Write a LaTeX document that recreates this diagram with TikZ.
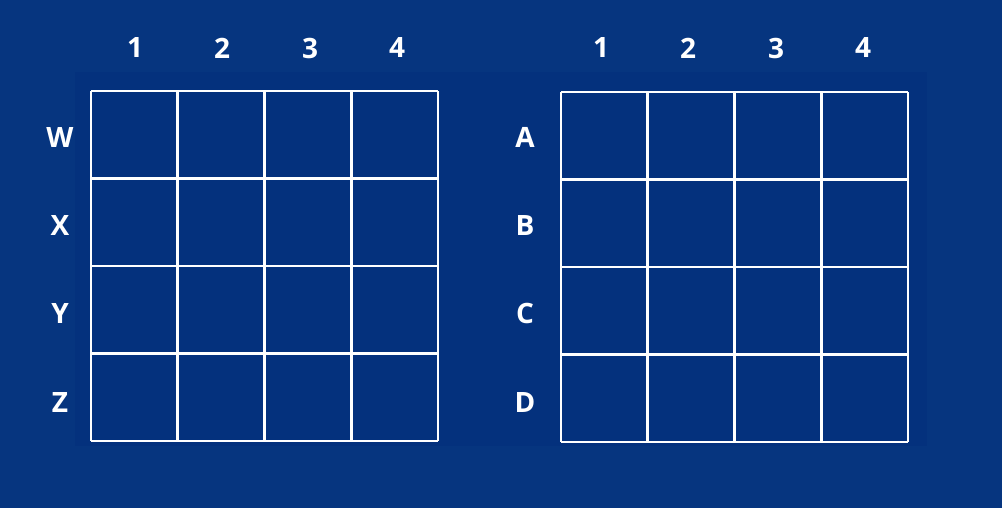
\documentclass[tikz,border=0pt]{standalone}
\usepackage{fontspec}
\setmainfont{Open Sans}
\definecolor{bgout}{HTML}{06357F}
\definecolor{bgin}{HTML}{04317D}
\begin{document}
\begin{tikzpicture}[x=0.75pt,y=-0.75pt,
  lbl/.style={text=white,font=\fontsize{21}{24}\selectfont\bfseries,inner sep=0pt,anchor=center},
  gridline/.style={draw=white,line width=2pt}]
\fill[bgout] (0,0) rectangle (1002,508);
\useasboundingbox (0,0) rectangle (1002,508);
\fill[bgin] (75,72) rectangle (927,446);
% left grid
\foreach \i in {0,...,4} {
  \draw[gridline] ({91+\i*86.75},91) -- ({91+\i*86.75},441);
  \draw[gridline] (91,{91+\i*87.5}) -- (438,{91+\i*87.5});
}
% right grid
\foreach \i in {0,...,4} {
  \draw[gridline] ({561+\i*86.75},92) -- ({561+\i*86.75},442);
  \draw[gridline] (561,{92+\i*87.5}) -- (908,{92+\i*87.5});
}
\foreach \n/\x in {1/135,2/222,3/310,4/397} \node[lbl] (lc\n) at (\x,48) {\n};
\foreach \n/\x in {1/601,2/688,3/776,4/863} \node[lbl] (rc\n) at (\x,48) {\n};
\foreach \t/\y in {W/137,X/225,Y/313,Z/402} \node[lbl] (lr\t) at (60,\y) {\t};
\foreach \t/\y in {A/137,B/225,C/313,D/402} \node[lbl] (rr\t) at (525,\y) {\t};
\end{tikzpicture}
\end{document}
